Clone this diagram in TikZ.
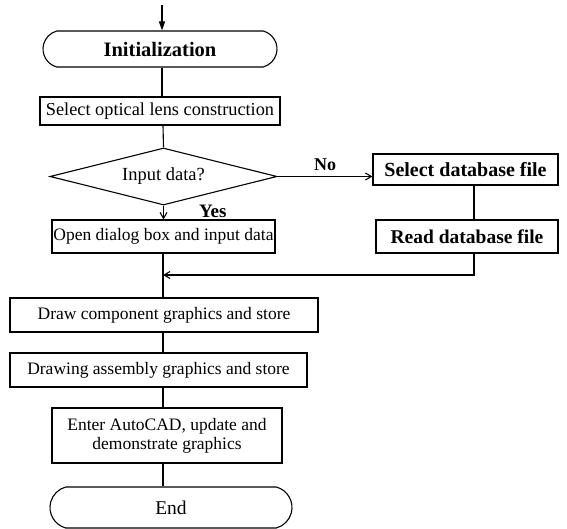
\documentclass[tikz,border=0pt]{standalone}
\usepackage{fontspec}
\setmainfont{Liberation Serif}
\usetikzlibrary{shapes.geometric,shapes.misc,arrows.meta}
\newcommand{\fs}[1]{\fontsize{#1}{#1}\selectfont}
\begin{document}
\begin{tikzpicture}[x=1pt,y=-1pt,
  every node/.style={font=\fs{17.5}, inner sep=0pt, line width=1.1pt},
  box/.style={draw, rectangle, align=center},
  term/.style={draw, rounded rectangle, rounded rectangle arc length=150},
  decision/.style={draw, diamond, aspect=4},
  flow/.style={line width=1.1pt},
  arr/.style={flow, -{Straight Barb[length=6pt,width=7pt]}},
  tip/.style={flow, -{Triangle[length=9pt,width=6pt]}}
]
\useasboundingbox (0,0) rectangle (567,529);
\coordinate (mx) at (163,0);
\coordinate (start) at (162,5);

% main column
\node[term, font=\fs{20.5}\bfseries, minimum width=234pt, minimum height=36pt] (init) at (160,49) {Initialization};
\node[box, font=\fs{18.3}, minimum width=240pt, minimum height=28pt] (sel) at (160,111) {Select optical lens construction};
\node[decision, font=\fs{18.5}, minimum width=227pt, minimum height=57pt] (dec) at (163.5,176.5) {Input data?};
\node[box, minimum width=223pt, minimum height=33pt] (open) at (163.5,236.5) {Open dialog box and input data};
\node[box, minimum width=308pt, minimum height=34pt] (comp) at (164,315) {Draw component graphics and store};
\node[box, minimum width=297pt, minimum height=34pt] (asm) at (158.5,370) {Drawing assembly graphics and store};
\node[box, font=\fontsize{17.5}{19}\selectfont, minimum width=230pt, minimum height=55pt] (cad) at (167,435.5) {Enter AutoCAD, update and\\demonstrate graphics};
\node[term, font=\fs{19.5}, minimum width=242pt, minimum height=41pt] (end) at (171,507.5) {End};

% database branch
\node[box, font=\fs{20}\bfseries, minimum width=185pt, minimum height=31pt] (seldb) at (465.5,169.5) {Select database file};
\node[box, font=\fs{19.5}\bfseries, minimum width=182pt, minimum height=33pt] (readdb) at (467,236.5) {Read database file};
\coordinate (rx) at (474,0);
\coordinate (join) at (163,275);

% connectors
\draw[tip] (start) -- (init.north -| start);
\draw[flow] (init.south -| start) -- (sel.north -| start);
\draw[flow] (sel.south -| mx) -- (dec.north);
\draw[arr] (dec.south) -- (open.north -| dec.south)
  node[pos=0.4, right=35pt, font=\fs{19}\bfseries] {Yes};
\draw[arr] (dec.east) -- node[above=5pt, pos=0.5, font=\fs{18}\bfseries] {No} (dec.east -| seldb.west);
\draw[flow] (seldb.south -| rx) -- (readdb.north -| rx);
\draw[arr] (readdb.south -| rx) |- (join);
\draw[flow] (open.south -| mx) -- (comp.north -| mx);
\draw[flow] (comp.south -| mx) -- (asm.north -| mx);
\draw[flow] (asm.south -| mx) -- (cad.north -| mx);
\draw[flow] (cad.south -| mx) -- (end.north -| mx);
\end{tikzpicture}
\end{document}
